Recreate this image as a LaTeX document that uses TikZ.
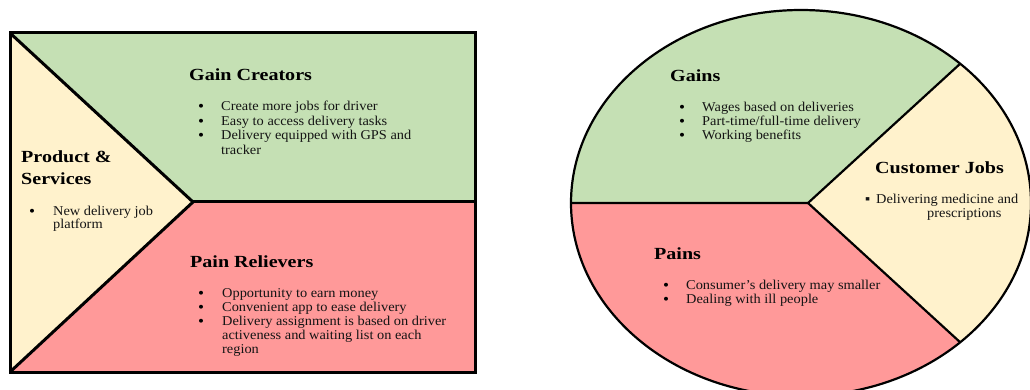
\documentclass[tikz,border=0pt]{standalone}
\usepackage{fontspec}
\setmainfont{Liberation Serif}
\newfontfamily\bodyfont[FakeStretch=1.065]{Liberation Serif}
\newfontfamily\headfont[FakeStretch=1.18]{Liberation Serif}
\usetikzlibrary{calc}

\definecolor{gainfill}{RGB}{197,224,180}
\definecolor{jobfill}{RGB}{255,242,204}
\definecolor{painfill}{RGB}{255,153,153}
\definecolor{inkdark}{RGB}{20,20,20}

\tikzset{
  heading/.style={anchor=base west, inner sep=0pt, text=black,
    font=\headfont\bfseries\fontsize{17}{21}\selectfont},
  bodyline/.style={anchor=base west, inner sep=0pt, text=inkdark,
    font=\bodyfont\fontsize{13.5}{14.3}\selectfont},
  bulletmark/.style={anchor=base west, inner sep=0pt, text=black,
    text height=6pt, text depth=0pt,
    font=\bodyfont\fontsize{16}{14.3}\selectfont},
  frame/.style={line width=3pt, line join=miter},
  ring/.style={line width=2.2pt},
}

\begin{document}
\begin{tikzpicture}[x=1pt,y=-1pt]
\useasboundingbox (0,0) rectangle (1030,390);
\clip (0,0) rectangle (1030,390);

% ---------------- value map (left) ----------------
\coordinate (tl) at (10,33);
\coordinate (tr) at (475,33);
\coordinate (br) at (475,372);
\coordinate (bl) at (10,372);
\coordinate (apex) at (193,202);
\coordinate (midr) at (475,202);

\fill[jobfill]  (tl) -- (apex) -- (bl) -- cycle;
\fill[gainfill] (tl) -- (tr) -- (midr) -- (apex) -- cycle;
\fill[painfill] (apex) -- (midr) -- (br) -- (bl) -- cycle;
\draw[frame] (tl) -- (apex) -- (bl);
\draw[frame] (apex) -- (midr);
\draw[frame] (tl) rectangle (br);

% Gain Creators
\node[heading]  (gcH) at (189,81) {Gain Creators};
\node[bulletmark] (gcB1) at (198,112) {•};
\node[bodyline] (gc1) at (221,111) {Create more jobs for driver};
\node[bulletmark] (gcB2) at (198,126.5) {•};
\node[bodyline] (gc2) at (221,125.5) {Easy to access delivery tasks};
\node[bulletmark] (gcB3) at (198,141) {•};
\node[bodyline] (gc3) at (221,140) {Delivery equipped with GPS and};
\node[bodyline] (gc4) at (221,154.3) {tracker};

% Product & Services
\node[heading]  (psH1) at (21,163) {Product \&};
\node[heading]  (psH2) at (21,185) {Services};
\node[bulletmark] (psB1) at (29,216) {•};
\node[bodyline] (ps1) at (53,215) {New delivery job};
\node[bodyline] (ps2) at (53,229) {platform};

% Pain Relievers
\node[heading]  (prH) at (190,267) {Pain Relievers};
\node[bulletmark] (prB1) at (198,298) {•};
\node[bodyline] (pr1) at (222,297) {Opportunity to earn money};
\node[bulletmark] (prB2) at (198,312) {•};
\node[bodyline] (pr2) at (222,311) {Convenient app to ease delivery};
\node[bulletmark] (prB3) at (198,326) {•};
\node[bodyline] (pr3) at (222,325) {Delivery assignment is based on driver};
\node[bodyline] (pr4) at (222,339) {activeness and waiting list on each};
\node[bodyline] (pr5) at (222,353) {region};

% ---------------- customer profile (right) ----------------
\coordinate (ec) at (801,203);
\coordinate (hub) at (808,203);
\coordinate (eL) at (571,203);
\coordinate (eT) at (960.2,63.7);
\coordinate (eB) at (960.2,342.3);

\begin{scope}
  \clip (ec) ellipse [x radius=230pt, y radius=193pt];
  \fill[jobfill] (560,0) rectangle (1040,400);
  \fill[gainfill] (560,203) -- (hub) -- (1116,-79) -- (560,-79) -- cycle;
  \fill[painfill] (560,203) -- (hub) -- (1116,485) -- (560,485) -- cycle;
\end{scope}
\draw[ring] (eL) -- (hub) -- (eT);
\draw[ring] (hub) -- (eB);
\draw[ring] (ec) ellipse [x radius=230pt, y radius=193pt];

% Gains
\node[heading]  (gH) at (670,82) {Gains};
\node[bulletmark] (gB1) at (679,113) {•};
\node[bodyline] (g1) at (702,112) {Wages based on deliveries};
\node[bulletmark] (gB2) at (679,127) {•};
\node[bodyline] (g2) at (702,126) {Part-time/full-time delivery};
\node[bulletmark] (gB3) at (679,141) {•};
\node[bodyline] (g3) at (702,140) {Working benefits};

% Customer Jobs
\node[heading]  (cjH) at (875,174) {Customer Jobs};
\node[bodyline] (cjB1) at (865,204) {▪};
\node[bodyline] (cj1) at (876,204) {Delivering medicine and};
\node[bodyline] (cj2) at (927,218) {prescriptions};

% Pains
\node[heading]  (pH) at (654,259) {Pains};
\node[bulletmark] (pB1) at (663,290) {•};
\node[bodyline] (p1) at (686,289) {Consumer’s delivery may smaller};
\node[bulletmark] (pB2) at (663,304) {•};
\node[bodyline] (p2) at (686,303) {Dealing with ill people};
\end{tikzpicture}
\end{document}
